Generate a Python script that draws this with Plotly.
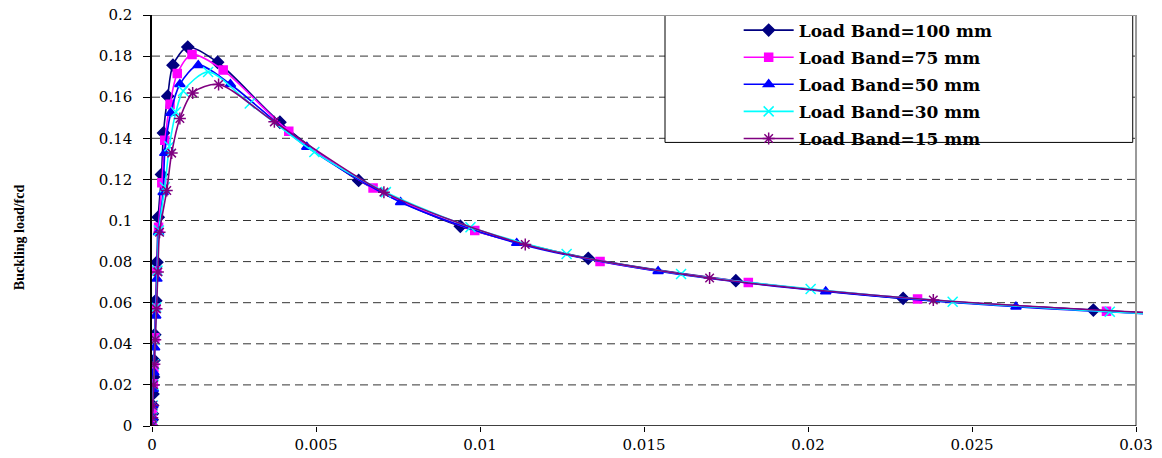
import plotly.graph_objects as go

# ---- data (strain, normalised load) ----
x_100 = [0, 0.000006, 0.000011, 0.000019, 0.00003, 0.000045, 0.00006, 0.000084, 0.000116, 0.00015,
         0.00019, 0.00029, 0.00035, 0.00048, 0.00064, 0.00109, 0.0020, 0.0039, 0.0063, 0.0094,
         0.0133, 0.0178, 0.0229, 0.0287, 0.0350]
y_100 = [0, 0.003, 0.006, 0.010, 0.0156, 0.0239, 0.032, 0.0444, 0.061, 0.0797,
         0.1016, 0.1224, 0.1426, 0.1605, 0.1756, 0.1844, 0.177, 0.1478, 0.1195, 0.0972,
         0.0816, 0.0707, 0.0621, 0.0564, 0.0508]

x_75 = [0, 0.000006, 0.000017, 0.000041, 0.000057, 0.000086, 0.000115, 0.00015, 0.0002, 0.0003,
        0.00039, 0.00055, 0.00077, 0.00122, 0.00217, 0.00417, 0.00674, 0.00984, 0.01366, 0.01818,
        0.02334, 0.0291, 0.0355]
y_75 = [0, 0.003, 0.0083, 0.0206, 0.0284, 0.0429, 0.0574, 0.0756, 0.0967, 0.1184,
        0.139, 0.1566, 0.1715, 0.1808, 0.1732, 0.1434, 0.1158, 0.0951, 0.0801, 0.0698,
        0.0618, 0.0558, 0.0505]

x_50 = [0, 0.0000084, 0.000021, 0.000038, 0.000055, 0.00008, 0.000113, 0.00015, 0.0002, 0.00034,
        0.00039, 0.00057, 0.00085, 0.00141, 0.00239, 0.00472, 0.00758, 0.01112, 0.01543, 0.02054,
        0.02634, 0.0330]
y_50 = [0, 0.004, 0.010, 0.018, 0.026, 0.0382, 0.0537, 0.0716, 0.0943, 0.1138,
        0.1328, 0.1523, 0.1663, 0.1756, 0.1663, 0.1358, 0.1089, 0.089, 0.0753, 0.0655,
        0.058, 0.0525]

x_30 = [0, 0.0000088, 0.000022, 0.000044, 0.000066, 0.000092, 0.000127, 0.000166, 0.00021, 0.00039,
        0.00053, 0.00073, 0.00095, 0.00171, 0.00298, 0.00495, 0.00713, 0.00971, 0.01264, 0.01613,
        0.02008, 0.02441, 0.0292, 0.0345]
y_30 = [0, 0.004, 0.010, 0.020, 0.030, 0.042, 0.0577, 0.0756, 0.0951, 0.1162,
        0.1361, 0.1528, 0.163, 0.1723, 0.1569, 0.1333, 0.1138, 0.0967, 0.0837, 0.074,
        0.0667, 0.0605, 0.0556, 0.0510]

x_15 = [0, 0.0000096, 0.000024, 0.000048, 0.000072, 0.0001, 0.000137, 0.00018, 0.00023, 0.00045,
        0.0006, 0.00085, 0.00124, 0.00203, 0.00373, 0.00707, 0.01138, 0.017, 0.02382, 0.0318]
y_15 = [0, 0.004, 0.010, 0.020, 0.030, 0.042, 0.057, 0.075, 0.0943, 0.1146,
        0.1328, 0.1496, 0.1621, 0.1662, 0.148, 0.1138, 0.0883, 0.072, 0.0613, 0.0540]

names = ["Load Band=100 mm", "Load Band=75 mm", "Load Band=50 mm", "Load Band=30 mm", "Load Band=15 mm"]
y_ticks = [0, 0.02, 0.04, 0.06, 0.08, 0.1, 0.12, 0.14, 0.16, 0.18, 0.2]
y_tick_text = ["0", "0.02", "0.04", "0.06", "0.08", "0.1", "0.12", "0.14", "0.16", "0.18", "0.2"]
x_ticks = [0, 0.005, 0.01, 0.015, 0.02, 0.025, 0.03]
x_tick_text = ["0", "0.005", "0.01", "0.015", "0.02", "0.025", "0.03"]
y_title = "Buckling load/fcd"

X_MAX = 0.03
Y_MAX = 0.2
X_VIEW = 0.030213  # lines run a few pixels past the plot border, as in the original

series = [
    (x_100, y_100, "#000080", "diamond", 9),
    (x_75, y_75, "#FF00FF", "square", 8),
    (x_50, y_50, "#0000FF", "triangle-up", 9),
    (x_30, y_30, "#00FFFF", "x-thin-open", 10),
    (x_15, y_15, "#800080", "asterisk-open", 10),
]

fig = go.Figure()
for i, (xs, ys, col, sym, sz) in enumerate(series):
    fig.add_trace(go.Scatter(
        x=xs, y=ys, name=names[i], mode="lines+markers",
        line=dict(color=col, width=1.6, shape="spline", smoothing=0.8),
        marker=dict(symbol=sym, size=sz, color=col, line=dict(color=col, width=1.5)),
        legendgroup=f"g{i}",
    ))

shapes = []
for yv in y_ticks[1:-1]:
    shapes.append(dict(type="line", xref="x", yref="y", x0=0, x1=X_MAX, y0=yv, y1=yv,
                       line=dict(color="#333333", width=1, dash="8px,5px"), layer="below"))
shapes += [
    # legend frame
    dict(type="rect", xref="x", yref="y", x0=0.01564, x1=0.0299, y0=0.138, y1=Y_MAX,
         line=dict(color="black", width=1), fillcolor="white", layer="below"),
    # plot border top / right (grey), bottom axis (black)
    dict(type="line", xref="x", yref="y", x0=0, x1=X_MAX, y0=Y_MAX, y1=Y_MAX,
         line=dict(color="#9a9a9a", width=2), layer="above"),
    dict(type="line", xref="x", yref="y", x0=X_MAX, x1=X_MAX, y0=0, y1=Y_MAX,
         line=dict(color="#9a9a9a", width=2), layer="above"),
    dict(type="line", xref="x", yref="y", x0=0, x1=X_MAX, y0=0, y1=0,
         line=dict(color="black", width=1.5), layer="above"),
]

font_family = "DejaVu Serif"
fig.update_layout(
    width=1162, height=458,
    margin=dict(l=152, r=19, t=15, b=32),
    paper_bgcolor="white", plot_bgcolor="white",
    font=dict(family=font_family, size=15, color="black"),
    showlegend=True,
    legend=dict(x=0.592, y=1.006, xanchor="left", yanchor="top",
                bgcolor="rgba(0,0,0,0)", borderwidth=0,
                font=dict(family=font_family, size=17, color="black", weight="bold"),
                tracegroupgap=2, itemwidth=50),
    xaxis=dict(range=[0, X_VIEW], tickvals=x_ticks, ticktext=x_tick_text,
               showgrid=False, zeroline=False, showline=False, automargin=False,
               ticks="outside", ticklen=5, tickcolor="black",
               tickfont=dict(family=font_family, size=15)),
    yaxis=dict(range=[0, Y_MAX], tickvals=y_ticks, ticktext=y_tick_text,
               showgrid=False, zeroline=False, showline=True, linecolor="black", linewidth=1.5,
               ticks="outside", ticklen=7, tickcolor="black", ticklabelstandoff=8,
               automargin=False, tickfont=dict(family=font_family, size=15)),
    shapes=shapes,
    annotations=[
        dict(text=y_title, xref="paper", yref="paper", x=-0.133, y=0.46,
             textangle=-90, showarrow=False, xanchor="center", yanchor="middle",
             font=dict(family="Liberation Serif", size=14, color="black", weight="bold")),
    ],
)

fig.write_html("out.html", config={"displayModeBar": False},
               post_script="document.body.style.margin='0';document.body.style.overflow='hidden';")
